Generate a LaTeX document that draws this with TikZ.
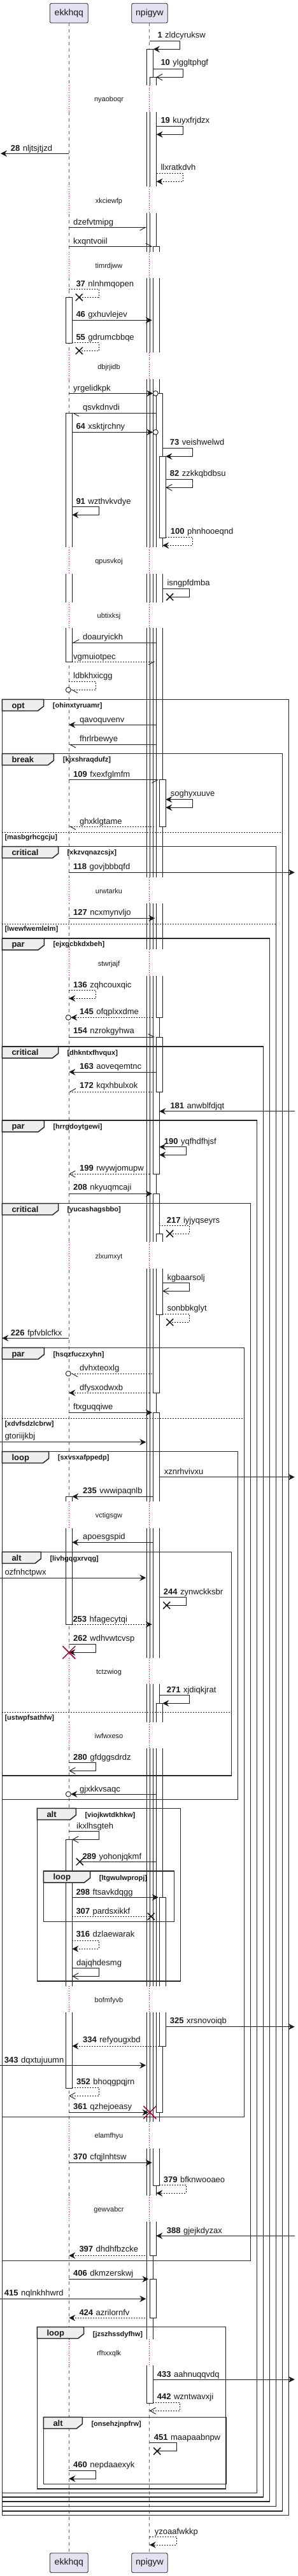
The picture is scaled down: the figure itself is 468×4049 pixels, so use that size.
\documentclass[tikz,border=0pt]{standalone}
\usepackage{fontspec}
\setmainfont{Liberation Sans}
\usetikzlibrary{arrows.meta}
\definecolor{crim}{HTML}{A80036}
\definecolor{pbox}{HTML}{E2E2F0}
\definecolor{ink}{HTML}{181818}
\definecolor{tabfill}{HTML}{EEEEEE}
\tikzset{
  life/.style={draw=black!60, line width=0.8pt, dash pattern=on 5pt off 5pt},
  dlyl/.style={draw=crim, line width=0.9pt, dash pattern=on 1pt off 2.6pt},
  actb/.style={draw=ink, fill=white, line width=0.9pt},
  msg/.style={draw=ink, line width=0.9pt},
  ret/.style={dash pattern=on 2pt off 2pt},
  fa/.style={-{Stealth[length=10pt,width=10pt,inset=3.5pt]}},
  fab/.style={{Stealth[length=10pt,width=10pt,inset=3.5pt]}-{Stealth[length=10pt,width=10pt,inset=3.5pt]}},
  oa/.style={-{Straight Barb[length=9pt,width=10pt]}},
  hA/.style={-{Straight Barb[harpoon,length=9pt,width=10pt]}},
  hB/.style={-{Straight Barb[harpoon,swap,length=9pt,width=10pt]}},
  xmk/.style={draw=ink, line width=1.5pt},
  frm/.style={draw=black!85, line width=1.5pt},
  sepl/.style={draw=ink, line width=0.8pt, dash pattern=on 2pt off 2pt},
  part/.style={draw=ink, fill=pbox, rounded corners=2.5pt, line width=0.8pt, inner sep=0pt,
    minimum height=30.7pt, font=\fontsize{14}{16}\selectfont, text=ink},
  lbl/.style={anchor=west, inner sep=0pt, text height=9.4pt, text depth=0pt,
    font=\fontsize{13}{15}\selectfont, text=ink},
  dtxt/.style={anchor=center, inner sep=0pt, text height=7.9pt, text depth=0pt,
    font=\fontsize{11}{13}\selectfont, text=ink},
  grd/.style={anchor=west, inner sep=0pt, text height=7.9pt, text depth=0pt,
    font=\fontsize{11}{13}\selectfont\bfseries, text=ink},
  tabl/.style={anchor=west, inner sep=0pt, text height=9.4pt, text depth=0pt,
    font=\fontsize{13}{15}\selectfont\bfseries, text=ink},
}
\newcommand\lab[3]{\node[lbl] at (#1,#2) {#3};}
\newcommand\nlab[4]{\node[lbl] at (#1,#2) {\textbf{#3}\hspace{4.5pt}#4};}
\newcommand\actbox[3]{\draw[actb] (#1,#2) rectangle (#1+10,#3);}
\newcommand\xm[2]{\draw[xmk] (#1,#2) ++(-5.5,-5.5) -- ++(11,11) ++(-11,0) -- ++(11,-11);}
\newcommand\dx[2]{\draw[draw=crim, line width=1.5pt] (#1,#2) ++(-10,-10) -- ++(20,20) ++(-20,0) -- ++(20,-20);}
\newcommand\oend[2]{\draw[draw=ink, line width=0.9pt, fill=white] (#1,#2) circle[radius=4];}
\newcommand\delayblk[3]{%
  \fill[white] (98,#1) rectangle (272,#2);
  \draw[dlyl] (108.3,#1) -- (108.3,#2);
  \draw[dlyl] (234.7,#1) -- (234.7,#2);
  \node[dtxt] at (171,{(#1+#2)/2+1}) {#3};}
\newcommand\grp[6]{%
  \draw[frm] (#1,#3) rectangle (#2,#4);
  \draw[frm, fill=tabfill] (#1,#3) -- (#5,#3) -- (#5,#3+10.7) -- (#5-9.3,#3+18) -- (#1,#3+18) -- cycle;
  \node[tabl] at (#1+15,#3+9) {#6};}
\newcommand\guard[3]{\node[grd] at (#1,#2) {[#3]};}
\newcommand\gsep[3]{\draw[sepl] (#1,#3) -- (#2,#3);}
\begin{document}
\begin{tikzpicture}[x=1pt,y=-1pt]
\useasboundingbox (0,0) rectangle (468,4049);
\fill[white] (0,0) rectangle (468,4049);
% lifelines
\draw[life] (108.3,36) -- (108.3,4012.7);
\draw[life] (234.7,36) -- (234.7,4012.7);
% activation bars ekkhqq
\actbox{103.3}{467.3}{539}
\actbox{103.3}{649.3}{1040}
\actbox{103.3}{2352.3}{2553.3}
\actbox{103.3}{2891.3}{3282}
% activation bars npigyw
\actbox{230.3}{77.3}{3777.3}
\actbox{235.3}{121.3}{3545.3}
\actbox{240.3}{387.3}{1845.3}
\actbox{245.3}{618.3}{1599.3}
\actbox{250.3}{717.3}{845}
\actbox{250.3}{1225.7}{1299}
\actbox{245.3}{1630}{1716}
\actbox{240.3}{1876.3}{2189.3}
\actbox{245.3}{1939}{2066}
\actbox{240.3}{2220.3}{3435}
\actbox{245.3}{2677.3}{3320.3}
\actbox{250.3}{2982.3}{3216}
\actbox{235.3}{3582.3}{3643.3}
% delays
\delayblk{134.3}{175.7}{nyaoboqr}
\delayblk{293.3}{335}{xkciewfp}
\delayblk{395.7}{437.3}{timrdjww}
\delayblk{554.3}{596}{dbjrjidb}
\delayblk{860.3}{901.7}{qpusvkoj}
\delayblk{946.7}{987.3}{ubtixksj}
\delayblk{1379.3}{1420}{urwtarku}
\delayblk{1492.3}{1534}{stwrjajf}
\delayblk{1952.3}{1994.3}{zlxumxyt}
\delayblk{2360}{2401.7}{vctigsgw}
\delayblk{2605.7}{2646.7}{tctzwiog}
\delayblk{2706.7}{2748.3}{iwfwxeso}
\delayblk{3121.7}{3163.3}{bofmfyvb}
\delayblk{3335}{3376.7}{elamfhyu}
\delayblk{3450.7}{3492.3}{gewvabcr}
\delayblk{3676.7}{3718.3}{rfhxxqlk}
% frames
\grp{3.3}{453.3}{1099.3}{3953.3}{68.7}{opt} \guard{82.7}{1108.3}{ohinxtyruamr}
\grp{3.3}{443.3}{1184.7}{3946.7}{84.3}{break} \guard{98.7}{1194}{kjxshraqdufz}
\gsep{3.3}{443.3}{1308.3} \guard{7.3}{1316}{masbgrhcgcju}
\grp{3.3}{433.3}{1330.7}{3939.3}{91.7}{critical} \guard{105.3}{1340}{xkzvqnazcsjx}
\gsep{3.3}{433.3}{1452.3} \guard{7.3}{1460}{lwewfwemlelm}
\grp{3.3}{423.3}{1475}{3931.7}{69.3}{par} \guard{83.3}{1483.3}{ejxgcbkdxbeh}
\grp{3.3}{413.3}{1645}{3925}{91.7}{critical} \guard{105.3}{1655}{dhkntxfhvqux}
\grp{3.3}{403.3}{1761}{3918.3}{69.3}{par} \guard{83.3}{1771}{hrrgdoytgewi}
\grp{3.3}{393.3}{1891.7}{3553.3}{91.7}{critical} \guard{105.3}{1901}{yucashagsbbo}
\grp{3.3}{383.3}{2118.3}{3327.7}{69.3}{par} \guard{83.3}{2128.3}{hsqzfuczxyhn}
\gsep{3.3}{383.3}{2229.3} \guard{7.3}{2237.3}{xdvfsdzlcbrw}
\grp{3.3}{373.3}{2281.7}{2828.3}{76.7}{loop} \guard{90.7}{2290.7}{sxvsxafppedp}
\grp{3.3}{363.3}{2439.3}{2791}{64.3}{alt} \guard{78.3}{2449.3}{livhgqgxrvqg}
\gsep{3.3}{363.3}{2691.7} \guard{7.3}{2699.3}{ustwpfsathfw}
\grp{58.3}{283.7}{2842.3}{3114}{119.3}{alt} \guard{133.3}{2852.3}{viojkwtdkhkw}
\grp{68.3}{273.7}{2941}{3020.7}{141.7}{loop} \guard{155.7}{2951.3}{ltgwulwpropj}
\grp{58.3}{354.3}{3657.7}{3911.7}{131.7}{loop} \guard{145.7}{3668.3}{jzszhssdyfhw}
\grp{68.3}{355.3}{3799.3}{3904.3}{129.3}{alt} \guard{143.3}{3809.3}{onsehzjnpfrw}
% participants
\node[part, minimum width=60pt] (ekT) at (108.3,20.7) {ekkhqq};
\node[part, minimum width=56.6pt] (npT) at (235,20.7) {npigyw};
\node[part, minimum width=60pt] (ekB) at (108.3,4028.3) {ekkhqq};
\node[part, minimum width=56.6pt] (npB) at (235,4028.3) {npigyw};
% messages
\draw[msg,fa] (234.7,64.3) -| (282.7,77.3) -- (240.8,77.3); \nlab{247.3}{55}{1}{zldcyruksw}
\draw[msg,oa] (240.3,108.3) -| (287.3,121.3) -- (245.3,121.3); \nlab{252.3}{98.3}{10}{ylggltphgf}
\draw[msg,fa] (245.7,198.7) -| (287.3,211.3) -- (245.7,211.3); \nlab{252.3}{189.3}{19}{kuyxfrjdzx}
\draw[msg,fa] (108.3,241.3) -- (1,241.3); \nlab{16.7}{232.3}{28}{nljtsjtjzd}
\draw[msg,ret,fa] (245.7,272.3) -| (287.3,285.3) -- (245.7,285.3); \lab{252.3}{262.3}{llxratkdvh}
\draw[msg,hB] (108.3,357.3) -- (230.3,357.3); \lab{115}{348.3}{dzefvtmipg}
\draw[msg,hA] (108.3,387.3) -- (239.5,387.3); \lab{115}{378.3}{kxqntvoiil}
\draw[msg,ret] (108.3,454.3) -| (155.3,467.3) -- (124.3,467.3); \xm{124.3}{467.3} \nlab{119.3}{445.3}{37}{nlnhmqopen}
\draw[msg,fa] (113.3,503.3) -- (238.7,503.3); \nlab{119.3}{493.3}{46}{gxhuvlejev}
\draw[msg,ret] (113.3,538.7) -| (155.3,551.3) -- (124.3,551.3); \xm{124.3}{551.3} \nlab{119.3}{529.3}{55}{gdrumcbbqe}
\draw[msg,fa] (108.3,618.3) -- (240.3,618.3); \oend{244.3}{618.3} \lab{115}{609.3}{yrgelidkpk}
\draw[msg,hA] (245.3,649.3) -- (113.3,649.3); \lab{130}{639.3}{qsvkdnvdi}
\draw[msg,fa] (113.3,679.3) -- (240.3,679.3); \oend{244.3}{679.3} \nlab{119.3}{670}{64}{xsktjrchny}
\draw[msg,fa] (255.3,704.3) -| (302.3,717.3) -- (260.3,717.3); \nlab{266.7}{695}{73}{veishwelwd}
\draw[msg,oa] (260.3,753.3) -| (302.3,766.3) -- (260.3,766.3); \nlab{266.7}{743.3}{82}{zzkkqbdbsu}
\draw[msg,fa] (113.3,796.3) -| (155.3,809.3) -- (113.3,809.3); \nlab{119.3}{787.3}{91}{wzthvkvdye}
\draw[msg,ret,fa] (260.3,844.3) -| (302.3,857.3) -- (255.3,857.3); \nlab{267.7}{835}{100}{phnhooeqnd}
\draw[msg] (255.3,925.3) -| (297.3,938.3) -- (266.7,938.3); \xm{266.7}{938.3} \lab{262.3}{915.3}{isngpfdmba}
\draw[msg,hB] (245.3,1010.3) -- (113.3,1010.3); \lab{130}{1000.7}{doauryickh}
\draw[msg,ret,hB] (113.3,1040) -- (243.7,1040); \lab{115}{1031.7}{vgmuiotpec}
\draw[msg,ret,hA] (108.3,1071.7) -| (150.7,1084.3) -- (111.3,1084.3); \oend{107.3}{1084.3} \lab{115}{1061.7}{ldbkhxicgg}
\draw[msg,fa] (245.3,1139.3) -- (108.3,1139.3); \lab{125}{1130.7}{qavoquvenv}
\draw[msg,hA] (245.3,1170.3) -- (108.3,1170.3); \lab{125}{1160.7}{fhrlrbewye}
\draw[msg,hB] (108.3,1225.7) -- (249.3,1225.7); \nlab{115}{1216.7}{109}{fxexfglmfm}
\draw[msg,fab] (260.3,1256.7) -| (302.3,1269.3) -- (260.3,1269.3); \lab{267.7}{1246.7}{soghyxuuve}
\draw[msg,ret,hA] (242.3,1299) -- (108.3,1299); \lab{125}{1290.3}{ghxklgtame}
\draw[msg,fa] (108.3,1371.3) -- (462.7,1371.3); \nlab{115}{1362}{118}{govjbbbqfd}
\draw[msg,fa] (108.3,1443.3) -- (243.3,1443.3); \nlab{115}{1433.3}{127}{ncxmynvljo}
\draw[msg,ret,fa] (108.3,1556.7) -| (150.7,1569.3) -- (108.3,1569.3); \nlab{115}{1547.3}{136}{zqhcouxqic}
\draw[msg,ret,fa] (240.3,1599.3) -- (111.3,1599.3); \oend{107.3}{1599.3} \nlab{125}{1590}{145}{ofqplxxdme}
\draw[msg,hA] (108.3,1630) -- (243.3,1630); \nlab{115}{1620}{154}{nzrokgyhwa}
\draw[msg,fa] (245.3,1685) -- (108.3,1685); \nlab{125}{1676}{163}{aoveqemtnc}
\draw[msg,ret,hB] (238.7,1716) -- (108.3,1716); \nlab{125}{1706}{172}{kqxhbulxok}
\draw[msg,fa] (463.3,1746.7) -- (250.3,1746.7); \nlab{267.3}{1737.3}{181}{anwblfdjqt}
\draw[msg,fab] (250.3,1802.7) -| (292.3,1815.3) -- (250.3,1815.3); \nlab{257.7}{1793.3}{190}{yqfhdfhjsf}
\draw[msg,ret,oa] (235.3,1845.3) -- (108.3,1845.3); \nlab{125}{1836}{199}{rwywjomupw}
\draw[msg,fa] (108.3,1876.3) -- (238.7,1876.3); \nlab{115}{1866}{208}{nkyuqmcaji}
\draw[msg,ret] (250.3,1926.3) -| (297.3,1939) -- (266.7,1939); \xm{266.7}{1939} \nlab{261.7}{1917.3}{217}{iyjyqseyrs}
\draw[msg,oa] (255.3,2016.7) -| (297.3,2029.3) -- (255.3,2029.3); \lab{262.3}{2007.3}{kgbaarsolj}
\draw[msg,ret] (255.3,2065.3) -| (297.3,2078.3) -- (266.7,2078.3); \xm{266.7}{2078.3} \lab{262.3}{2055.3}{sonbbkglyt}
\draw[msg,fa] (108.3,2103.3) -- (3.3,2103.3); \nlab{16.7}{2094.3}{226}{fpfvblcfkx}
\draw[msg,ret,hA] (238.7,2159) -- (111.3,2159); \oend{107.3}{2159} \lab{125}{2150}{dvhxteoxlg}
\draw[msg,ret,fa] (235.3,2189.3) -- (108.3,2189.3); \lab{125}{2180.3}{dfysxodwxb}
\draw[msg,fa] (108.3,2220.3) -- (238.7,2220.3); \lab{115}{2210.7}{ftxguqqiwe}
\draw[msg,fa] (0,2266.7) -- (229.3,2266.7); \lab{7.3}{2256.7}{gtoriijkbj}
\draw[msg,fa] (250.3,2321.7) -- (462.7,2321.7); \lab{257.7}{2312.3}{xznrhvivxu}
\draw[msg,fa] (240.3,2352.3) -- (113.3,2352.3); \nlab{130}{2342.3}{235}{vwwipaqnlb}
\draw[msg,fa] (240.3,2424.3) -- (113.3,2424.3); \lab{130}{2415}{apoesgspid}
\draw[msg,fa] (0,2480) -- (229.3,2480); \lab{7.3}{2470.7}{ozfnhctpwx}
\draw[msg] (250.3,2510.3) -| (292.3,2523.3) -- (261.7,2523.3); \xm{261.7}{2523.3} \nlab{256.7}{2501.7}{244}{zynwckksbr}
\draw[msg,ret,fa] (113.3,2553.3) -- (238.7,2553.3); \nlab{114.3}{2544.3}{253}{hfagecytqi}
\draw[msg,fa] (108.3,2584.3) -| (150.7,2597.3) -- (108.3,2597.3); \dx{108.3}{2597.3} \nlab{115}{2574.3}{262}{wdhvwtcvsp}
\draw[msg,fa] (250.3,2664.3) -| (297.3,2677.3) -- (255.3,2677.3); \nlab{261.7}{2655.3}{271}{xjdiqkjrat}
\draw[msg,oa] (108.3,2770.7) -| (150.7,2783.3) -- (108.3,2783.3); \nlab{115}{2761.7}{280}{gfdggsdrdz}
\draw[msg,fa] (245.3,2820) -- (111.3,2820); \oend{107.3}{2820} \lab{125}{2811.7}{gjxkkvsaqc}
\draw[msg,oa] (108.3,2878.7) -| (155.3,2891.3) -- (113.3,2891.3); \lab{120}{2869.3}{ikxlhsgteh}
\draw[msg] (245.3,2926.3) -- (125.3,2926.3); \xm{125.3}{2926.3} \nlab{129.3}{2917.3}{289}{yohonjqkmf}
\draw[msg,fa] (113.3,2982.3) -- (248.7,2982.3); \nlab{119.3}{2973.3}{298}{ftsavkdqgg}
\draw[msg,ret] (113.3,3012.3) -- (237.3,3012.3); \xm{237.3}{3012.3} \nlab{119.3}{3003.3}{307}{pardsxikkf}
\draw[msg,ret,fa] (113.3,3050.3) -| (155.3,3063.3) -- (113.3,3063.3); \nlab{119.3}{3040}{316}{dzlaewarak}
\draw[msg,oa] (113.3,3093.7) -| (155.3,3106.3) -- (113.3,3106.3); \lab{120}{3084.3}{dajqhdesmg}
\draw[msg,fa] (260.3,3185.7) -- (462.7,3185.7); \nlab{266.7}{3176}{325}{xrsnovoiqb}
\draw[msg,ret,fa] (250.3,3216) -- (113.3,3216); \nlab{130}{3206}{334}{refyougxbd}
\draw[msg,fa] (0,3246.3) -- (229.3,3246.3); \nlab{6.7}{3237.3}{343}{dqxtujuumn}
\draw[msg,ret,oa] (113.3,3281) -| (155.3,3294.3) -- (108.3,3294.3); \nlab{120}{3272}{352}{bhoqgpqjrn}
\draw[msg,fa] (108.3,3320.3) -- (233.3,3320.3); \dx{235.3}{3320.3} \nlab{115}{3310.3}{361}{qzhejoeasy}
\draw[msg,fa] (108.3,3399.3) -- (238.7,3399.3); \nlab{115}{3390}{370}{cfqjlnhtsw}
\draw[msg,ret,fa] (250.3,3434.3) -| (292.3,3447.3) -- (245.3,3447.3); \nlab{256.7}{3425.3}{379}{bfknwooaeo}
\draw[msg,fa] (463.3,3514.3) -- (245.3,3514.3); \nlab{261.7}{3505.3}{388}{gjejkdyzax}
\draw[msg,ret,fa] (228.3,3545.3) -- (108.3,3545.3); \nlab{124.3}{3535}{397}{dhdhfbzcke}
\draw[msg,fa] (108.3,3582.3) -- (233.3,3582.3); \nlab{115}{3572.7}{406}{dkmzerskwj}
\draw[msg,fa] (0,3613.3) -- (229.3,3613.3); \nlab{6.7}{3603.3}{415}{nqlnkhhwrd}
\draw[msg,ret,fa] (228.3,3643.3) -- (108.3,3643.3); \nlab{124.3}{3634.3}{424}{azrilornfv}
\draw[msg,fa] (240.3,3740) -- (462.7,3740); \nlab{246.7}{3731.7}{433}{aahnuqqvdq}
\draw[msg,ret,oa] (240.3,3776.7) -| (282.7,3789.3) -- (234.7,3789.3); \nlab{246.7}{3766.7}{442}{wzntwavxji}
\draw[msg] (234.7,3839.3) -| (277.3,3852.7) -- (246.7,3852.7); \xm{246.7}{3852.7} \nlab{241.7}{3830.7}{451}{maapaabnpw}
\draw[msg,fa] (108.3,3883.3) -| (150.7,3896) -- (108.3,3896); \nlab{115}{3873.3}{460}{nepdaaexyk}
\draw[msg,ret,fa] (234.7,3987.7) -| (277.3,4000) -- (234.7,4000); \lab{242.7}{3978.7}{yzoaafwkkp}
\end{tikzpicture}
\end{document}
